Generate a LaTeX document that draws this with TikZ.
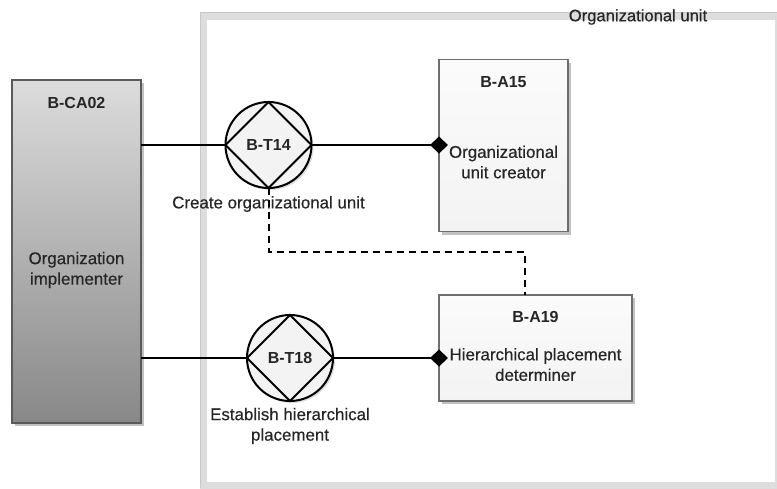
\documentclass[tikz,border=0pt]{standalone}
\usepackage{fontspec}
\setmainfont{Liberation Sans}
\newfontfamily\descfont{Liberation Sans}[FakeBold=0.45]
\usetikzlibrary{arrows.meta,shadows,calc}
\definecolor{framegray}{HTML}{DDDDDD}
\definecolor{frameedge}{HTML}{C8C8C8}
\definecolor{boxedge}{HTML}{6E6E6E}
\definecolor{boxfill}{HTML}{F3F3F3}
\definecolor{boxtop}{HTML}{FBFBFB}
\definecolor{actortop}{HTML}{DCDCDC}
\definecolor{actorbottom}{HTML}{888888}
\definecolor{actoredge}{HTML}{5A5A5A}
\definecolor{txt}{HTML}{262626}
\tikzset{
  idtext/.style={font=\fontsize{16}{20}\selectfont\bfseries, text=txt, inner sep=0pt},
  desc/.style={font=\descfont\fontsize{16.9}{20.5}\selectfont, text=txt, align=center, inner sep=0pt},
  softshadow/.style={drop shadow={shadow xshift=3pt, shadow yshift=-3pt, opacity=0.35, fill=black!70}},
  actorbox/.style={draw=actoredge, line width=1.8pt, top color=actortop, bottom color=actorbottom,
    softshadow, inner sep=0pt, outer sep=0pt},
  rolebox/.style={draw=boxedge, line width=1.8pt, top color=boxtop, bottom color=boxfill,
    softshadow, inner sep=0pt, outer sep=0pt},
  transaction/.style={circle, draw=black, line width=2pt, fill=boxfill, minimum size=86pt,
    inner sep=0pt, outer sep=0pt, drop shadow={shadow xshift=2pt, shadow yshift=-2pt, opacity=0.25}},
  conn/.style={draw=black, line width=2.2pt},
  execlink/.style={conn, -{Diamond[length=18pt, width=17pt, line width=0pt]}, shorten >=-9pt},
  waitlink/.style={draw=black, line width=2pt, dash pattern=on 7pt off 5pt},
}
\begin{document}
\begin{tikzpicture}[x=1pt, y=-1pt]
\useasboundingbox (0,0) rectangle (777,488);

% organizational unit boundary
\draw[framegray, line width=7pt] (203.5,16) rectangle (778,485);
\draw[frameedge, line width=0.6pt] (200,12.5) -- (777,12.5);
\draw[frameedge, line width=0.6pt] (200.3,12.5) -- (200.3,488);
\node[font=\descfont\fontsize{16.6}{18}\selectfont, text=txt, inner sep=0pt] (ouname) at (638,17) {Organizational unit};

% composite actor
\node[actorbox, minimum width=129pt, minimum height=343pt] (ca02) at (76.5,251.5) {};
\node[idtext] (ca02id) at (76.5,103) {B-CA02};
\node[desc] (ca02txt) at (76.5,270) {Organization\\implementer};

% elementary actor roles
\node[rolebox, minimum width=129pt, minimum height=172pt] (a15) at (503.5,145.5) {};
\node[idtext] (a15id) at (503.5,82) {B-A15};
\node[desc] (a15txt) at (503.5,162) {Organizational\\unit creator};

\node[rolebox, minimum width=193pt, minimum height=106pt] (a19) at (535.5,348) {};
\node[idtext] (a19id) at (535.5,317) {B-A19};
\node[desc] (a19txt) at (535.5,364.5) {Hierarchical placement\\determiner};

% transactions
\node[transaction] (t14) at (268.5,145) {};
\draw[line width=2pt] (t14.north) -- (t14.east) -- (t14.south) -- (t14.west) -- cycle;
\node[idtext] (t14id) at (t14) {B-T14};
\node[desc] (t14txt) at (268.5,204) {Create organizational unit};

\node[transaction] (t18) at (290,358) {};
\draw[line width=2pt] (t18.north) -- (t18.east) -- (t18.south) -- (t18.west) -- cycle;
\node[idtext] (t18id) at (t18) {B-T18};
\node[desc] (t18txt) at (290,426) {Establish hierarchical\\placement};

% initiator links
\draw[conn] (ca02.east |- t14) -- (t14.west);
\draw[conn] (ca02.east |- t18) -- (t18.west);

% executor links
\draw[execlink] (t14.east) -- (a15.west |- t14);
\draw[execlink] (t18.east) -- (a19.west |- t18);

% wait link
\coordinate (wj) at (525,252);
\draw[waitlink] (t14.south) |- (wj) -- (wj |- a19.north);
\end{tikzpicture}
\end{document}
